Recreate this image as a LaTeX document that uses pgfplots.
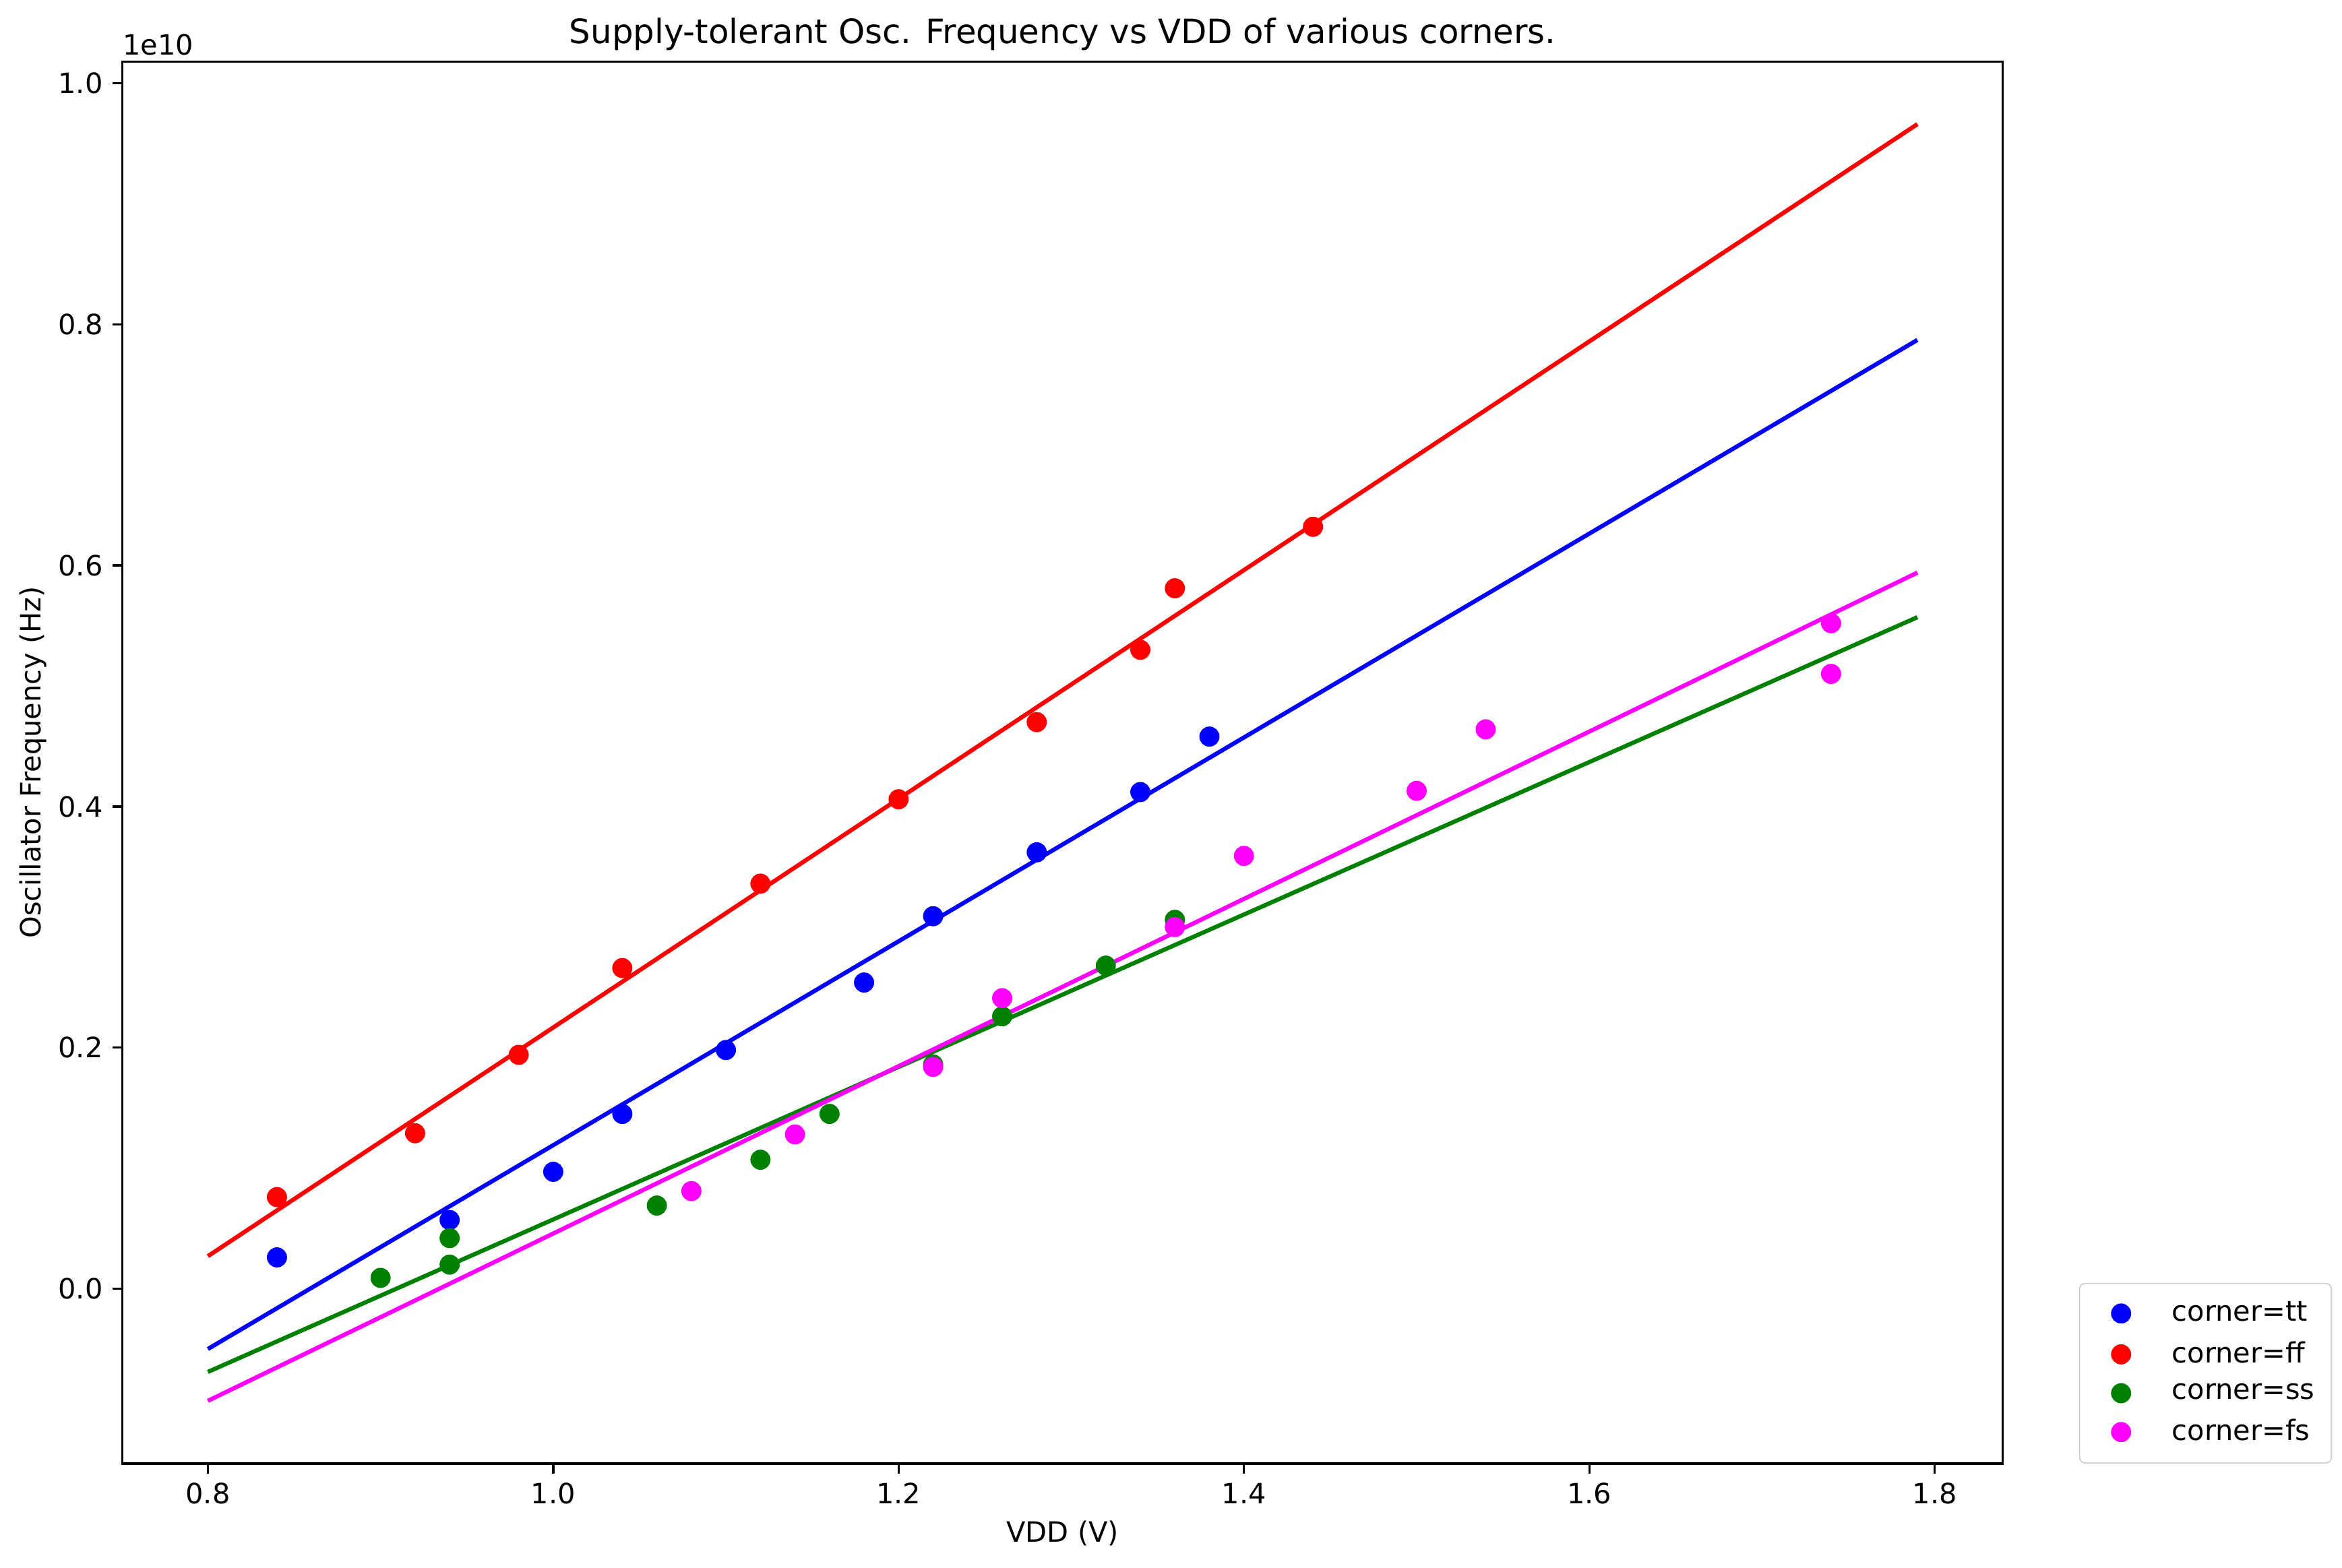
\documentclass[border=0pt]{standalone}
\usepackage{fontspec}
\setmainfont{DejaVu Sans}
\usepackage{pgfplots}
\pgfplotsset{compat=1.18}
\definecolor{mgreen}{rgb}{0,0.5,0}
\definecolor{mmag}{rgb}{1,0,1}
\begin{document}
\begin{tikzpicture}
\useasboundingbox (-43.6bp,-37.2bp) rectangle (790.6bp,521.4bp);
\begin{axis}[
  at={(0,0)}, anchor=south west,
  scale only axis, width=669.8bp, height=499.5bp,
  xmin=0.7505, xmax=1.8395, ymin=-0.145, ymax=1.018,
  xtick={0.8,1.0,1.2,1.4,1.6,1.8},
  ytick={0,0.2,0.4,0.6,0.8,1.0},
  xticklabel style={/pgf/number format/.cd,fixed,fixed zerofill,precision=1},
  yticklabel style={/pgf/number format/.cd,fixed,fixed zerofill,precision=1},
  /pgf/number format/assume math mode=true,
  tick label style={font=\fontsize{10}{12}\selectfont},
  tick align=outside, xtick pos=bottom, ytick pos=left,
  major tick length=3.5pt,
  every tick/.style={black, line width=0.8pt},
  axis line style={line width=0.8pt},
  scaled y ticks=false,
  every axis title shift=0pt,
  title={Supply-tolerant Osc. Frequency vs VDD of various corners.},
  title style={at={(0.5,1)}, anchor=base, yshift=6.5bp, font=\fontsize{12}{14}\selectfont},
  xlabel={VDD (V)}, ylabel={Oscillator Frequency (Hz)},
  label style={font=\fontsize{10}{12}\selectfont},
  xlabel style={at={(0.5,0)}, anchor=base, yshift=-28bp},
  every axis y label/.append style={at={(ticklabel cs:0.5,3bp)}, anchor=base},
  legend style={at={(1.0405,0)}, anchor=south west, draw=white!80!black,
    rounded corners=2pt, font=\fontsize{10}{12}\selectfont,
    row sep=1.8pt, inner xsep=4pt, inner ysep=4.5pt, cells={anchor=west}},
  legend cell align=left,
  legend image code/.code={\path (-10.8bp,0) -- (8.2bp,0); \draw[#1, mark size=3.4pt] plot coordinates {(0cm,0cm)};},
  clip=false,
]
\addplot[only marks, mark=*, mark size=3.4pt, blue, draw=none] coordinates {
(0.84,0.026)(0.94,0.057)(1.00,0.097)(1.04,0.145)(1.10,0.198)(1.18,0.254)(1.22,0.309)(1.28,0.362)(1.34,0.412)(1.38,0.458)};
\addlegendentry{\hspace{8pt}corner=tt}
\addplot[blue, line width=1.5pt, forget plot] coordinates {(0.8,-0.050)(1.79,0.787)};
\addplot[only marks, mark=*, mark size=3.4pt, red, draw=none] coordinates {
(0.84,0.076)(0.92,0.129)(0.98,0.194)(1.04,0.266)(1.12,0.336)(1.20,0.406)(1.28,0.470)(1.34,0.530)(1.36,0.581)(1.44,0.632)};
\addlegendentry{\hspace{8pt}corner=ff}
\addplot[red, line width=1.5pt, forget plot] coordinates {(0.8,0.027)(1.79,0.966)};
\addplot[only marks, mark=*, mark size=3.4pt, mgreen, draw=none] coordinates {
(0.90,0.009)(0.94,0.042)(0.94,0.020)(1.06,0.069)(1.12,0.107)(1.16,0.145)(1.22,0.186)(1.26,0.226)(1.32,0.268)(1.36,0.306)};
\addlegendentry{\hspace{8pt}corner=ss}
\addplot[mgreen, line width=1.5pt, forget plot] coordinates {(0.8,-0.069)(1.79,0.557)};
\addplot[only marks, mark=*, mark size=3.4pt, mmag, draw=none] coordinates {
(1.08,0.081)(1.14,0.128)(1.22,0.184)(1.26,0.241)(1.36,0.300)(1.40,0.359)(1.50,0.413)(1.54,0.464)(1.74,0.552)(1.74,0.510)};
\addlegendentry{\hspace{8pt}corner=fs}
\addplot[mmag, line width=1.5pt, forget plot] coordinates {(0.8,-0.093)(1.79,0.594)};
\node[anchor=south west, inner sep=0pt, font=\fontsize{10}{12}\selectfont] at (rel axis cs:0,1) [yshift=2bp] {1e10};
\end{axis}
\end{tikzpicture}
\end{document}
